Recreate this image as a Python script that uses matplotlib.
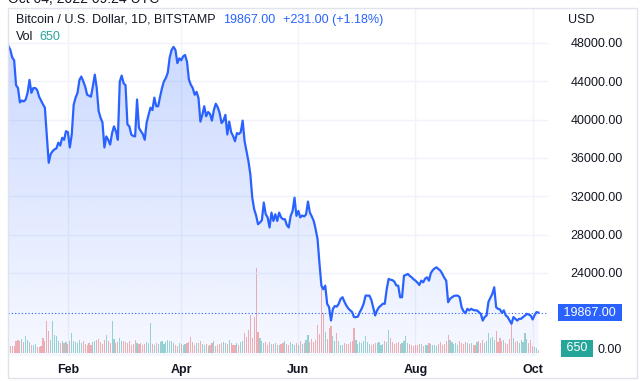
import numpy as np
import pandas as pd
import matplotlib
matplotlib.use('Agg')
import matplotlib.pyplot as plt
import matplotlib.dates as mdates
from matplotlib.patches import Polygon, Rectangle
from matplotlib.colors import LinearSegmentedColormap

plt.rcParams['font.family'] = ['Liberation Sans', 'DejaVu Sans']

# daily BTC/USD close, Bitstamp, 2022-01-01 .. 2022-10-04
dates = pd.date_range('2022-01-01', '2022-10-04', freq='D')
price = [
    47700, 47300, 46500, 46200, 43600, 43300, 41800, 42000, 41900, 42100,
    42800, 44150, 42800, 43300, 43300, 43100, 42400, 42000, 41600, 41250,
    38450, 35500, 36400, 36700, 36900, 37000, 37600, 37300, 38100, 37900,
    38800, 38700, 37100, 38450, 41550, 42300, 42800, 44150, 44500, 44000,
    43450, 42600, 42500, 42400, 43500, 44700, 43300, 40900, 40200, 39700,
    37100, 38250, 37900, 37400, 38600, 39300, 38800, 37900, 43980, 44600,
    43800, 43600, 39500, 39300, 38450, 38300, 38250, 42100, 39150, 38800,
    38500, 37900, 39700, 40500, 41250, 41000, 42300, 41400, 41400, 42400,
    43300, 44000, 44350, 44900, 46500, 47270, 47600, 47270, 45900, 46400,
    46200, 46600, 46750, 46050, 44200, 43640, 43300, 42600, 42900, 42250,
    39800, 40500, 41400, 40350, 40800, 40600, 39900, 41000, 41660, 41300,
    40700, 39650, 39900, 40500, 38450, 39800, 38700, 38300, 37750, 38600,
    38500, 38700, 39900, 37750, 36700, 35670, 34300, 31860, 30650, 30000,
    29090, 29270, 29500, 31350, 30130, 29800, 28750, 30300, 29430, 30130,
    29430, 30300, 29800, 29610, 29610, 29000, 28750, 29960, 30470, 31860,
    29960, 30470, 29800, 30000, 29900, 30100, 31450, 30300, 29900, 29430,
    28570, 27530, 25000, 22680, 22300, 22680, 20780, 20430, 19040, 20260,
    20550, 20500, 20780, 21300, 21470, 21000, 20600, 20300, 20100, 19920,
    19400, 19400, 19450, 19920, 20300, 20800, 21640, 21640, 21640, 21200,
    20400, 19570, 20100, 20430, 20600, 20800, 20780, 22300, 23380, 23300,
    23250, 23100, 22700, 22680, 21470, 21470, 23720, 23800, 23900, 23700,
    23550, 23350, 23200, 23000, 22750, 23200, 23030, 23400, 23550, 23200,
    24000, 24300, 24490, 24590, 24400, 24240, 23900, 23500, 23200, 20950,
    21300, 21470, 21600, 21640, 21640, 21470, 20430, 20000, 19800, 20260,
    20100, 20260, 20150, 20100, 20100, 19920, 19740, 19040, 19400, 19560,
    21000, 21400, 21820, 22510, 20430, 20260, 20200, 19840, 20100, 19570,
    19400, 19040, 18700, 19400, 19220, 19040, 19220, 19220, 19400, 19560,
    19740, 19650, 19560, 19150, 19600, 19920, 19867,
]
volume = [
    1200, 1400, 1500, 1400, 2400, 2600, 2500, 2900, 2200, 3400,
    2600, 2300, 1700, 1600, 1900, 1300, 1200, 1500, 3000, 2400,
    6400, 4400, 2600, 6400, 3600, 3400, 2400, 2100, 2500, 2000,
    2300, 1900, 2400, 4000, 2500, 2200, 2000, 2600, 2100, 2400,
    1900, 1700, 2000, 1600, 2200, 2500, 2600, 2900, 2200, 1900,
    2700, 3600, 2400, 2100, 6400, 2800, 2000, 2300, 3000, 2400,
    2400, 2200, 2000, 2400, 1700, 1900, 2600, 2100, 1800, 2000,
    1600, 1800, 2200, 2000, 6000, 1900, 1700, 2100, 1900, 2200,
    2500, 1800, 2300, 2600, 2400, 2500, 2000, 1700, 1500, 2100,
    1800, 1600, 1900, 2000, 2300, 3200, 2200, 1700, 2000, 2100,
    2500, 1900, 1600, 1800, 1500, 1600, 2000, 2400, 1500, 1700,
    1900, 2000, 2300, 2100, 1900, 2600, 2000, 1700, 1600, 2000,
    1700, 2200, 2400, 4000, 3200, 4600, 7600, 3000, 7200, 17000,
    4200, 3000, 2400, 2000, 2200, 1600, 2300, 1900, 1800, 2100,
    1700, 1600, 1900, 2000, 2400, 1800, 1700, 2200, 1900, 1600,
    2100, 1700, 2400, 1800, 2000, 2600, 3600, 2200, 2800, 2300,
    2600, 5600, 3800, 13000, 8000, 4200, 2800, 5000, 5400, 3400,
    2400, 4000, 2400, 1700, 1600, 2100, 1800, 1900, 2200, 2400,
    5000, 2600, 1900, 2200, 2000, 2400, 3400, 2200, 1800, 1600,
    1900, 2000, 2100, 2200, 1700, 1900, 2400, 2200, 4600, 3000,
    2200, 1900, 2100, 2300, 1800, 2000, 2400, 3400, 2000, 1800,
    1600, 1500, 1700, 1600, 1900, 1800, 1500, 1700, 1600, 2000,
    1800, 1600, 1700, 1500, 1900, 2200, 1700, 1900, 2400, 3600,
    2600, 2200, 1800, 2000, 1700, 2400, 2100, 1900, 2300, 2000,
    1800, 2000, 1700, 1600, 2200, 2400, 2000, 2600, 2100, 2400,
    4000, 3000, 3200, 2600, 4400, 2200, 3000, 2400, 2600, 2000,
    1900, 2800, 5600, 3000, 2200, 2400, 2000, 2600, 2200, 4000,
    2800, 2100, 2600, 1500, 1300, 1100, 650,
]
price_ticks = [24000, 28000, 32000, 36000, 40000, 44000, 48000]
month_ticks = ['2022-02-01', '2022-04-01', '2022-06-01', '2022-08-01', '2022-10-01']
month_labels = ['Feb', 'Apr', 'Jun', 'Aug', 'Oct']
change = '+231.00 (+1.18%)'

BLUE = '#2962ff'
TEAL = '#26a69a'
RED = '#ef5350'
TXT = '#131722'
GRID = '#f0f3fa'

W, H = 640, 381
fig = plt.figure(figsize=(W / 100, H / 100), dpi=100)
fig.patch.set_facecolor('white')

# volume pane (behind) and price pane share the same rectangle
rect = [8 / W, 25 / H, 540 / W, 348 / H]
vax = fig.add_axes(rect)
ax = fig.add_axes(rect, sharex=vax)
ax.patch.set_visible(False)

xs = mdates.date2num(dates)
price = np.array(price, dtype=float)
volume = np.array(volume, dtype=float)

# volume bars coloured by day-over-day move
up = np.r_[True, price[1:] >= price[:-1]]
vcol = [TEAL if u else RED for u in up]
vax.bar(xs, volume, width=0.6, color=vcol, alpha=0.45, linewidth=0)
vax.set_ylim(-600, 69000)
vax.set_yticks([])
for s in vax.spines.values():
    s.set_visible(False)
vax.tick_params(axis='x', bottom=False, labelbottom=False)

# grid
for m in month_ticks:
    vax.axvline(mdates.datestr2num(m), color=GRID, lw=1, zorder=0)

ylo, yhi = 15339, 51652
for p in price_ticks:
    ax.axhline(p, color=GRID, lw=1, zorder=0)

# gradient area under the price line
verts = [(xs[0], ylo)] + list(zip(xs, price)) + [(xs[-1], ylo)]
poly = Polygon(verts, closed=True, fc='none', ec='none')
ax.add_patch(poly)
cmap = LinearSegmentedColormap.from_list(
    'area', [(41 / 255, 98 / 255, 1, 0.04), (41 / 255, 98 / 255, 1, 0.24)])
grad = np.linspace(0, 1, 256).reshape(-1, 1)
im = ax.imshow(grad, extent=[xs[0], xs[-1], ylo, price.max()], origin='lower',
               aspect='auto', cmap=cmap, zorder=1, interpolation='bicubic')
im.set_clip_path(poly)

ax.plot(xs, price, color=BLUE, lw=1.6, zorder=3, solid_joinstyle='round')
ax.axhline(price[-1], color=BLUE, lw=0.8, ls=(0, (1, 2)), zorder=2)

ax.set_xlim(xs[0] - 0.2, xs[0] + 281)
ax.set_ylim(ylo, yhi)

ax.yaxis.tick_right()
ax.set_yticks(price_ticks)
ax.set_yticklabels([f'{p:.2f}' for p in price_ticks])
ax.tick_params(axis='y', length=0, pad=16, labelsize=9, labelcolor=TXT)
ax.set_xticks([mdates.datestr2num(m) for m in month_ticks])
ax.set_xticklabels(month_labels, fontweight='bold')
ax.tick_params(axis='x', length=0, pad=6, labelsize=9, labelcolor=TXT)
for s in ax.spines.values():
    s.set_visible(False)

# last price tag
ax.annotate(f' {price[-1]:.2f} ', xy=(1, price[-1]), xycoords=('axes fraction', 'data'),
            xytext=(12, 0), textcoords='offset pixels', ha='left', va='center',
            fontsize=9, color='white',
            bbox=dict(boxstyle='square,pad=0.2', fc=BLUE, ec='none'))
# volume tag + zero label
ax.annotate(f' {int(volume[-1])} ', xy=(1, 0), xycoords=('axes fraction', 'axes fraction'),
            xytext=(15, 8), textcoords='offset pixels', ha='left', va='center',
            fontsize=9, color='white', zorder=5,
            bbox=dict(boxstyle='square,pad=0.2', fc=TEAL, ec='none'))
ax.annotate('0.00', xy=(1, 0), xycoords=('axes fraction', 'axes fraction'),
            xytext=(49, 6), textcoords='offset pixels', ha='left', va='center',
            fontsize=9, color=TXT, zorder=6)

# header texts
fig.text(568 / W, 1 - 20 / H, 'USD', fontsize=9, color=TXT, va='center', ha='left')
t1 = fig.text(16 / W, 1 - 20 / H, 'Bitcoin / U.S. Dollar, 1D, BITSTAMP',
              fontsize=9, color=TXT, va='center', ha='left')
t2 = ax.annotate(f'{price[-1]:.2f}', xy=(1, 0.5), xycoords=t1, xytext=(7, 0),
                 textcoords='offset pixels', va='center', fontsize=9, color=BLUE)
ax.annotate(change, xy=(1, 0.5), xycoords=t2, xytext=(8, 0),
            textcoords='offset pixels', va='center', fontsize=9, color=BLUE)
t3 = fig.text(16 / W, 1 - 37 / H, 'Vol', fontsize=9, color=TXT, va='center', ha='left')
ax.annotate(f'{int(volume[-1])}', xy=(1, 0.5), xycoords=t3, xytext=(6, 0),
            textcoords='offset pixels', va='center', fontsize=9, color=TEAL)

# timestamp cut off at the top edge
fig.text(8 / W, 1 - 3 / H, 'Oct 04, 2022 09:24 UTC', fontsize=10, color=TXT,
         va='baseline', ha='left')

# panel frame
fig.add_artist(Rectangle((8 / W, 3 / H), 629 / W, 370 / H, transform=fig.transFigure,
                         fill=False, ec='#e0e3eb', lw=1))

fig.savefig('out.png', dpi=100)
